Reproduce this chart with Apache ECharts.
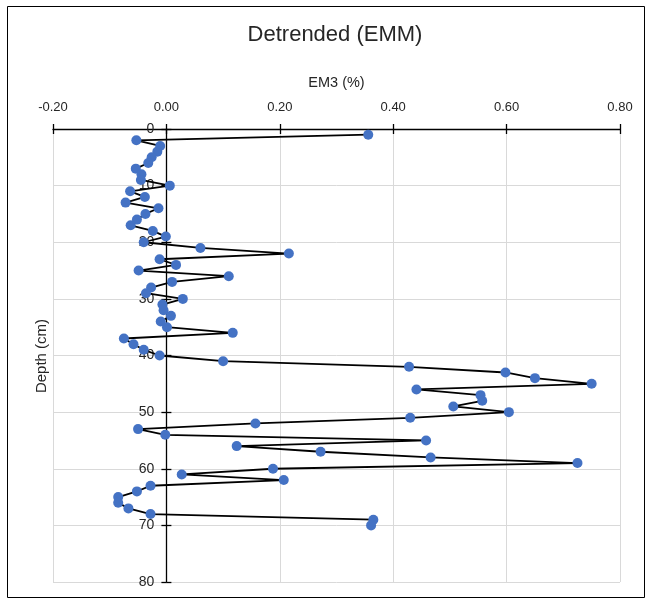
<!DOCTYPE html>
<html>
<head>
<meta charset="utf-8">
<script src="https://cdn.jsdelivr.net/npm/echarts@6/dist/echarts.min.js"></script>
<style>html,body{margin:0;padding:0;background:#fff;}#c{width:648px;height:602px;}</style>
</head>
<body>
<div id="c"></div>
<script>
var depthCm = [1,2,3,4,5,6,7,8,9,10,11,12,13,14,15,16,17,18,19,20,21,22,23,24,25,26,27,28,29,30,31,32,33,34,35,36,37,38,39,40,41,42,43,44,45,46,47,48,49,50,51,52,53,54,55,56,57,58,59,60,61,62,63,64,65,66,67,68,69,70];
var em3 = [0.356,-0.053,-0.011,-0.016,-0.026,-0.032,-0.054,-0.044,-0.045,0.006,
  -0.064,-0.038,-0.072,-0.014,-0.037,-0.052,-0.063,-0.024,-0.001,-0.040,
  0.060,0.216,-0.012,0.017,-0.049,0.110,0.010,-0.027,-0.036,0.029,
  -0.007,-0.005,0.008,-0.010,0.001,0.117,-0.075,-0.058,-0.040,-0.012,
  0.100,0.428,0.598,0.650,0.750,0.441,0.554,0.557,0.506,0.604,
  0.430,0.157,-0.050,-0.002,0.458,0.124,0.272,0.466,0.725,0.188,
  0.027,0.207,-0.028,-0.052,-0.085,-0.085,-0.067,-0.028,0.365,0.361];
var xTicks = {min:-0.2, max:0.8, interval:0.2};
var yTicks = {min:0, max:80, interval:10};

var pts = depthCm.map(function(d,i){return [em3[i], d];});
var font = 'Liberation Sans';
var gridLeft = 53, gridRight = 28;
var plotW = 648 - gridLeft - gridRight;
// y axis sits where x = 0
var yOffset = -plotW * (0 - xTicks.min) / (xTicks.max - xTicks.min);
var chart = echarts.init(document.getElementById('c'), null, {renderer:'canvas'});
chart.setOption({
  animation:false,
  backgroundColor:'#fff',
  title:{text:'Detrended (EMM)', left:330, top:19, textAlign:'center',
    textStyle:{fontFamily:font, fontSize:22, fontWeight:'normal', color:'#262626'}},
  graphic:[
    {type:'rect', shape:{x:7.5,y:6.5,width:637,height:591}, style:{fill:'none',stroke:'#000',lineWidth:1}, silent:true},
    {type:'text', x:42, y:356, rotation:Math.PI/2, style:{text:'Depth (cm)', font:'15px '+font, fill:'#262626', textAlign:'center', textVerticalAlign:'middle'}}
  ],
  grid:{left:gridLeft, right:gridRight, top:129, bottom:20, containLabel:false},
  xAxis:[{
    type:'value', position:'top', min:xTicks.min, max:xTicks.max, interval:xTicks.interval,
    name:'EM3 (%)', nameLocation:'middle', nameGap:39,
    nameTextStyle:{fontFamily:font, fontSize:14.5, color:'#262626'},
    axisLine:{show:true, onZero:false, lineStyle:{color:'#000', width:1.3}},
    axisTick:{show:true, inside:false, length:5, lineStyle:{color:'#000', width:1.3}},
    axisLabel:{margin:15, fontFamily:font, fontSize:13, color:'#262626',
      formatter:function(v){return v.toFixed(2);}},
    splitLine:{show:true, lineStyle:{color:'#d9d9d9', width:1}}
  },{
    type:'value', position:'top', min:xTicks.min, max:xTicks.max, interval:xTicks.interval,
    axisLine:{show:false, onZero:false},
    axisTick:{show:true, inside:true, length:5, lineStyle:{color:'#000', width:1.3}},
    axisLabel:{show:false}, splitLine:{show:false}
  }],
  yAxis:[{
    type:'value', inverse:true, position:'left', offset:yOffset,
    min:yTicks.min, max:yTicks.max, interval:yTicks.interval,
    axisLine:{show:true, onZero:false, lineStyle:{color:'#000', width:1.3}},
    axisTick:{show:true, inside:false, length:5, lineStyle:{color:'#000', width:1.3}},
    axisLabel:{margin:12, fontFamily:font, fontSize:14, color:'#262626'},
    splitLine:{show:true, lineStyle:{color:'#d9d9d9', width:1}}
  },{
    type:'value', inverse:true, position:'left', offset:yOffset,
    min:yTicks.min, max:yTicks.max, interval:yTicks.interval,
    axisLine:{show:false, onZero:false},
    axisTick:{show:true, inside:true, length:5, lineStyle:{color:'#000', width:1.3}},
    axisLabel:{show:false}, splitLine:{show:false}
  }],
  series:[{
    type:'line', xAxisIndex:0, yAxisIndex:0, data:pts,
    symbol:'circle', symbolSize:10, showSymbol:true,
    itemStyle:{color:'#4472C4'},
    lineStyle:{color:'#000', width:1.8},
    z:3
  }]
});
</script>
</body>
</html>
